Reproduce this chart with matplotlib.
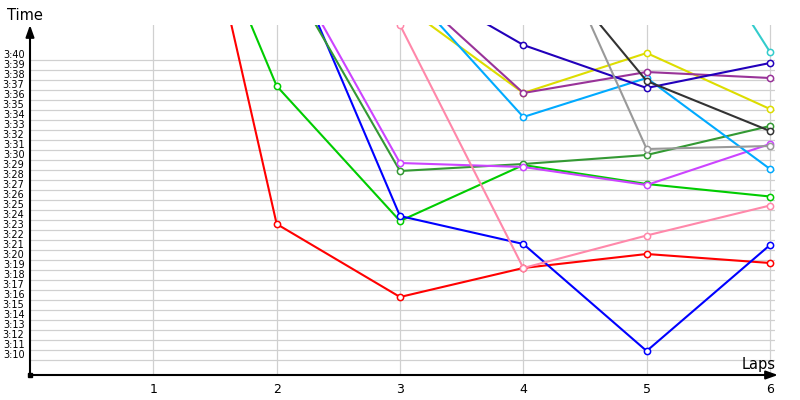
import matplotlib
matplotlib.use("Agg")
import matplotlib.pyplot as plt
from matplotlib.ticker import FuncFormatter

# lap times in seconds, one list per driver
laps_red = [1, 2, 3, 4, 5, 6]
red = [257.8, 203.6, 196.3, 199.2, 200.6, 199.7]
laps_lime = [1, 2, 3, 4, 5, 6]
lime = [246.8, 217.4, 203.9, 209.5, 207.6, 206.35]
laps_blue = [2, 3, 4, 5, 6]
blue = [233.3, 204.4, 201.6, 190.9, 201.5]
laps_green = [2, 3, 4, 5, 6]
green = [230.3, 208.9, 209.6, 210.5, 213.4]
laps_violet = [2, 3, 4, 5, 6]
violet = [231.7, 209.7, 209.3, 207.5, 211.6]
laps_pink = [3, 4, 5, 6]
pink = [223.5, 199.2, 202.45, 205.45]
laps_yellow = [3, 4, 5, 6]
yellow = [225.7, 216.7, 220.7, 215.1]
laps_sky = [3, 4, 5, 6]
sky = [227.9, 214.3, 218.2, 209.1]
laps_purple = [3, 4, 5, 6]
purple = [227.9, 216.7, 218.8, 218.2]
laps_navy = [3, 4, 5, 6]
navy = [228.6, 221.5, 217.2, 219.7]
laps_grey = [4, 5, 6]
grey = [238.5, 211.1, 211.4]
laps_dark = [4, 5, 6]
dark = [232.8, 217.9, 212.9]
laps_cyan = [5, 6]
cyan = [240.2, 220.8]

series = [
    (laps_red, red, "#ff0000"),
    (laps_lime, lime, "#00cc00"),
    (laps_blue, blue, "#0000ff"),
    (laps_green, green, "#339933"),
    (laps_violet, violet, "#cc44ff"),
    (laps_pink, pink, "#ff88aa"),
    (laps_yellow, yellow, "#dddd00"),
    (laps_sky, sky, "#00aaff"),
    (laps_purple, purple, "#993399"),
    (laps_navy, navy, "#2200bb"),
    (laps_grey, grey, "#999999"),
    (laps_dark, dark, "#333333"),
    (laps_cyan, cyan, "#33cccc"),
]

x_ticks = [1, 2, 3, 4, 5, 6]
y_ticks = list(range(190, 221))

fig = plt.figure(figsize=(8, 4), dpi=100)
ax = fig.add_axes([30 / 800, 25 / 400, 745 / 800, 350 / 400])
ax.set_xlim(0, 745 / (740 / 6))
ax.set_ylim(188.5, 223.5)

# grid
for t in y_ticks:
    ax.axhline(t, color="#d0d0d0", lw=0.9, zorder=0)
for t in x_ticks:
    ax.axvline(t, color="#d0d0d0", lw=0.9, zorder=0)

for lx, ly, c in series:
    ax.plot(lx, ly, color=c, lw=1.5, marker="o", ms=4.5, mfc="white", mec=c, mew=1.1)

ax.set_xticks(x_ticks)
ax.set_yticks(y_ticks)
ax.yaxis.set_major_formatter(FuncFormatter(lambda v, p: "%d:%02d" % (int(v) // 60, int(v) % 60)))
ax.tick_params(axis="y", length=0, pad=4, labelsize=7)
ax.tick_params(axis="x", length=0, pad=6, labelsize=9)
for lab in ax.get_yticklabels():
    lab.set_va("bottom")

for s in ax.spines.values():
    s.set_visible(False)

# axes with arrows
ax.annotate("", xy=(0, 1.0), xytext=(0, 0), xycoords="axes fraction",
            arrowprops=dict(arrowstyle="-|>,head_length=0.7,head_width=0.25", color="black", lw=1.5, shrinkA=0, shrinkB=0))
ax.annotate("", xy=(1.004, 0), xytext=(0, 0), xycoords="axes fraction",
            arrowprops=dict(arrowstyle="-|>,head_length=0.7,head_width=0.25", color="black", lw=1.5, shrinkA=0, shrinkB=0))
ax.plot(0, 188.5, marker="s", ms=3, color="black", clip_on=False)

fig.text(25 / 800, 1 - 16 / 400, "Time", ha="center", va="center", fontsize=10.5)
fig.text(759 / 800, 1 - 365 / 400, "Laps", ha="center", va="center", fontsize=10.5)

fig.savefig("out.png", dpi=100)
